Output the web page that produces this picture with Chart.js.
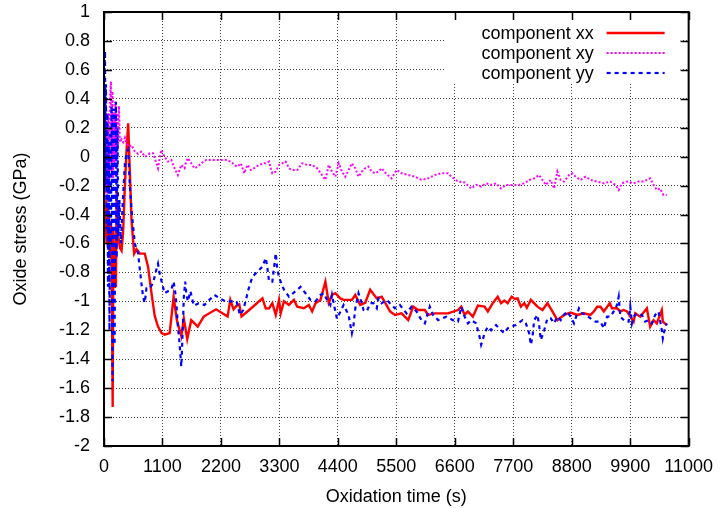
<!DOCTYPE html>
<html>
<head>
<meta charset="utf-8">
<title>Oxide stress</title>
<script src="https://cdn.jsdelivr.net/npm/chart.js@4.4.1/dist/chart.umd.min.js"></script>
<style>
body { margin: 0; background: #fff; }
#stress-chart { display: block; }
</style>
</head>
<body>
<canvas id="stress-chart" width="723" height="508"></canvas>
<script>
// values (time in s, stress in GPa)
var xxTime = [5,19,32,47,62,75,94,112,131,150,163,178,193,206,224,238,253,271,299,331,361,393,425,455,486,518,567,612,674,767,829,892,954,1016,1085,1141,1235,1310,1371,1454,1502,1566,1641,1764,1877,2109,2326,2376,2438,2494,2545,2588,2732,2981,3044,3106,3167,3231,3293,3324,3386,3480,3573,3635,3760,3854,3916,3979,4073,4166,4228,4290,4353,4447,4508,4664,4728,4821,4915,5008,5132,5225,5382,5474,5599,5724,5818,5911,6037,6098,6224,6473,6660,6722,6785,6847,6940,7034,7159,7221,7315,7408,7470,7533,7595,7670,7732,7782,7844,7908,7956,8031,8156,8250,8343,8437,8530,8656,8779,8905,9030,9153,9216,9279,9341,9404,9516,9558,9652,9715,9777,9840,9902,9965,9995,10089,10214,10276,10340,10401,10495,10514,10588];
var xxStress = [-0.35,-0.55,-0.3,-0.6,-0.35,-0.62,-0.4,-0.7,-0.45,-1.0,-1.73,-0.5,-0.9,-0.61,-0.9,-0.22,-0.6,-0.55,-0.63,-0.65,-0.51,-0.2,0.05,0.23,-0.1,-0.44,-0.67,-0.64,-0.67,-0.67,-0.76,-0.94,-1.1,-1.175,-1.22,-1.23,-1.22,-0.97,-1.13,-1.24,-1.12,-1.26,-1.13,-1.175,-1.105,-1.055,-1.105,-0.99,-1.055,-1.03,-1.02,-1.105,-1.06,-0.98,-1.05,-1.048,-1.013,-1.094,-0.99,-1.083,-1.0,-1.025,-0.99,-1.037,-1.048,-1.025,-1.07,-1.013,-0.99,-0.864,-1.01,-0.956,-0.944,-0.98,-0.99,-0.99,-0.956,-1.025,-1.01,-0.92,-0.98,-0.968,-1.07,-1.094,-1.083,-1.13,-1.037,-1.06,-1.06,-1.094,-1.083,-1.083,-1.06,-1.037,-1.094,-1.07,-1.106,-1.03,-1.037,-1.07,-1.013,-0.968,-1.013,-0.995,-1.013,-0.968,-0.984,-0.98,-1.037,-1.013,-1.044,-0.99,-1.037,-1.06,-1.013,-1.07,-1.13,-1.094,-1.078,-1.094,-1.083,-1.094,-1.07,-1.037,-1.037,-1.07,-1.013,-1.048,-1.048,-1.07,-1.06,-1.07,-1.106,-1.14,-1.083,-1.106,-1.048,-1.175,-1.13,-1.152,-1.06,-1.14,-1.164];

var xyTime = [0,13,24,37,50,64,80,94,112,131,144,159,174,187,200,215,230,243,262,281,299,331,361,393,425,468,518,580,642,705,767,829,861,922,986,1016,1048,1079,1109,1141,1203,1266,1328,1390,1454,1515,1547,1577,1641,1702,1764,1828,1921,2045,2170,2295,2389,2451,2512,2576,2638,2700,2763,2825,2918,3012,3044,3106,3137,3167,3231,3293,3354,3418,3480,3541,3635,3729,3822,3916,4009,4103,4166,4228,4290,4353,4415,4477,4540,4602,4664,4728,4789,4851,4915,4976,5038,5101,5163,5225,5313,5412,5506,5599,5724,5849,5973,6098,6224,6347,6473,6535,6660,6785,6909,7003,7096,7189,7283,7377,7470,7564,7689,7814,7908,8001,8094,8187,8250,8312,8405,8468,8530,8592,8656,8749,8811,8873,8967,9060,9153,9279,9404,9528,9622,9684,9746,9840,9965,10058,10151,10276,10340,10401,10463,10526,10588];
var xyStress = [-0.2,-0.35,0.1,-0.3,0.2,-0.25,0.3,-0.2,0.4,0.52,-0.1,0.45,-0.15,0.3,-0.05,0.38,0.0,0.3,0.05,0.35,0.1,0.12,0.1,0.13,0.09,0.07,0.08,0.035,0.02,0.035,0.0,0.01,0.023,0.023,-0.046,-0.08,-0.01,0.046,0.023,0.0,-0.034,-0.023,-0.08,-0.127,-0.057,-0.08,-0.034,-0.01,-0.046,-0.08,-0.069,-0.046,-0.023,-0.023,-0.023,-0.023,-0.034,-0.057,-0.069,-0.046,-0.115,-0.057,-0.092,-0.08,-0.057,-0.046,-0.046,-0.034,-0.08,-0.115,-0.103,-0.057,-0.046,-0.034,-0.08,-0.092,-0.092,-0.046,-0.057,-0.057,-0.08,-0.127,-0.16,-0.057,-0.103,-0.138,-0.046,-0.103,-0.138,-0.092,-0.046,-0.08,-0.138,-0.103,-0.08,-0.069,-0.103,-0.115,-0.103,-0.08,-0.12,-0.15,-0.092,-0.115,-0.127,-0.138,-0.16,-0.15,-0.127,-0.115,-0.115,-0.138,-0.172,-0.178,-0.22,-0.195,-0.207,-0.184,-0.195,-0.184,-0.22,-0.195,-0.195,-0.195,-0.184,-0.161,-0.15,-0.127,-0.161,-0.195,-0.161,-0.22,-0.103,-0.161,-0.172,-0.127,-0.115,-0.138,-0.161,-0.138,-0.161,-0.172,-0.184,-0.172,-0.195,-0.23,-0.184,-0.172,-0.184,-0.172,-0.172,-0.15,-0.195,-0.23,-0.22,-0.265,-0.265];

var yyTime = [0,9,19,28,37,50,62,75,88,103,118,131,144,159,174,187,200,211,224,238,253,268,290,318,355,393,425,455,486,518,580,642,674,735,767,799,861,922,986,1016,1048,1109,1141,1203,1266,1310,1347,1371,1390,1422,1454,1465,1483,1502,1528,1547,1577,1626,1689,1783,1889,1983,2077,2183,2282,2389,2494,2557,2619,2670,2718,2793,2886,2981,3044,3074,3106,3167,3199,3231,3261,3293,3324,3386,3480,3605,3697,3792,3884,3979,4073,4134,4196,4258,4290,4353,4383,4508,4602,4634,4664,4695,4728,4789,4851,4883,4944,5008,5070,5132,5163,5225,5318,5412,5474,5567,5693,5786,5880,5973,6037,6130,6192,6286,6441,6566,6660,6722,6785,6847,6909,7003,7034,7066,7096,7127,7159,7221,7283,7377,7470,7533,7595,7657,7750,7875,7937,7999,8031,8062,8094,8156,8187,8218,8282,8343,8405,8468,8530,8592,8656,8717,8779,8842,8936,8998,9060,9153,9247,9341,9404,9466,9528,9590,9652,9684,9715,9808,9871,9902,9933,9965,10027,10120,10182,10245,10307,10370,10433,10495,10514,10546,10588];
var yyStress = [-0.3,0.6,0.73,-0.2,0.5,-0.5,0.3,-0.9,0.1,-1.2,0.2,-0.6,0.35,-1.55,-0.3,0.33,-1.3,-0.4,0.38,-0.7,0.2,-0.55,-0.3,-0.6,-0.3,-0.05,0.03,0.05,-0.2,-0.37,-0.6,-0.67,-0.78,-0.97,-1.01,-0.91,-0.91,-0.875,-0.78,-0.74,-0.81,-0.9,-0.944,-0.93,-0.92,-0.864,-0.956,-1.06,-1.175,-1.29,-1.45,-1.36,-1.175,-0.97,-0.864,-0.944,-1.0,-0.93,-1.03,-1.013,-1.025,-0.99,-0.956,-0.98,-1.0,-1.0,-1.0,-1.094,-1.06,-0.99,-0.917,-0.83,-0.795,-0.76,-0.70,-0.77,-0.864,-0.864,-0.77,-0.668,-0.78,-0.83,-0.864,-0.92,-0.968,-0.93,-0.9,-0.944,-0.99,-1.0,-0.956,-0.944,-0.99,-1.025,-0.956,-1.07,-1.12,-1.025,-1.094,-1.164,-1.22,-1.164,-1.048,-0.944,-1.013,-1.06,-1.07,-1.013,-1.013,-1.048,-0.98,-1.013,-0.99,-1.025,-1.048,-1.025,-1.083,-1.037,-1.07,-1.13,-1.152,-1.037,-1.094,-1.13,-1.106,-1.13,-1.14,-1.037,-1.106,-1.152,-1.13,-1.152,-1.2,-1.245,-1.30,-1.267,-1.22,-1.175,-1.2,-1.164,-1.2,-1.22,-1.187,-1.175,-1.164,-1.13,-1.152,-1.22,-1.30,-1.245,-1.13,-1.094,-1.164,-1.267,-1.2,-1.118,-1.118,-1.152,-1.106,-1.13,-1.094,-1.07,-1.106,-1.152,-1.048,-1.083,-1.094,-1.118,-1.14,-1.14,-1.187,-1.106,-1.106,-1.07,-1.025,-0.968,-1.106,-1.14,-1.14,-1.037,-1.152,-1.106,-1.083,-1.094,-1.14,-1.13,-1.152,-1.094,-1.07,-1.2,-1.257,-1.2,-1.152];

// axis ranges / tick steps
var xMin = 0, xMax = 11000, xStep = 1100;
var yMin = -2, yMax = 1, yStep = 0.2;

var FONT_FAMILY = '"Liberation Sans", Arial, Helvetica, sans-serif';
var FONT_SIZE = 18;

function toPoints(xs, ys) {
    return xs.map((x, i) => ({ x: x, y: ys[i] }));
}

// gnuplot look: full frame, inward ticks on all sides, opaque key top right
var gnuplotFrame = {
    id: 'gnuplotFrame',
    afterDraw: function(chart) {
        var ctx = chart.ctx;
        var a = chart.chartArea;
        var sx = chart.scales.x, sy = chart.scales.y;
        ctx.save();

        // key box
        ctx.fillStyle = '#fff';
        ctx.fillRect(a.right - 244, a.top + 1, 236, 71);
        ctx.font = FONT_SIZE + 'px ' + FONT_FAMILY;
        ctx.fillStyle = '#000';
        ctx.textAlign = 'right';
        ctx.textBaseline = 'middle';
        chart.data.datasets.forEach(function(ds, i) {
            var y = a.top + 21 + i * 20;
            ctx.fillText(ds.label, a.right - 95, y + 1);
            ctx.beginPath();
            ctx.strokeStyle = ds.borderColor;
            ctx.lineWidth = ds.borderWidth;
            ctx.setLineDash(ds.borderDash || []);
            ctx.moveTo(a.right - 82, y);
            ctx.lineTo(a.right - 24, y);
            ctx.stroke();
        });
        ctx.setLineDash([]);

        // inward ticks
        ctx.strokeStyle = '#000';
        ctx.lineWidth = 1.5;
        ctx.beginPath();
        sx.ticks.forEach(function(t) {
            var px = Math.round(sx.getPixelForValue(t.value)) + 0.5;
            ctx.moveTo(px, a.bottom); ctx.lineTo(px, a.bottom - 8);
            ctx.moveTo(px, a.top); ctx.lineTo(px, a.top + 8);
        });
        sy.ticks.forEach(function(t) {
            var py = Math.round(sy.getPixelForValue(t.value)) + 0.5;
            ctx.moveTo(a.left, py); ctx.lineTo(a.left + 8, py);
            ctx.moveTo(a.right, py); ctx.lineTo(a.right - 8, py);
        });
        ctx.stroke();

        // frame
        ctx.lineWidth = 2;
        ctx.strokeRect(a.left, a.top, a.right - a.left, a.bottom - a.top);
        ctx.restore();
    }
};

function draw_stress_chart() {
    var ctx = document.getElementById('stress-chart').getContext('2d');
    return new Chart(ctx, {
        type: 'line',
        data: {
            datasets: [
                {
                    label: 'component xx',
                    data: toPoints(xxTime, xxStress),
                    borderColor: '#ff0000',
                    borderWidth: 2.4,
                    order: 3
                },
                {
                    label: 'component xy',
                    data: toPoints(xyTime, xyStress),
                    borderColor: '#ff00ff',
                    borderWidth: 2,
                    borderDash: [2, 2],
                    order: 2
                },
                {
                    label: 'component yy',
                    data: toPoints(yyTime, yyStress),
                    borderColor: '#0000ff',
                    borderWidth: 2.2,
                    borderDash: [4, 4],
                    order: 1
                }
            ]
        },
        options: {
            responsive: false,
            animation: false,
            devicePixelRatio: 1,
            elements: {
                point: { radius: 0 },
                line: { tension: 0, fill: false, borderJoinStyle: 'miter' }
            },
            layout: { padding: { left: 0, right: 31, top: 12, bottom: 0 } },
            plugins: {
                legend: { display: false },
                tooltip: { enabled: false }
            },
            scales: {
                x: {
                    type: 'linear',
                    min: xMin,
                    max: xMax,
                    afterFit: function(scale) { scale.height = 62; },
                    ticks: {
                        stepSize: xStep,
                        autoSkip: false,
                        maxRotation: 0,
                        padding: 10,
                        color: '#000',
                        font: { family: FONT_FAMILY, size: FONT_SIZE },
                        callback: function(v) { return String(v); }
                    },
                    grid: { color: '#444', lineWidth: 1, drawTicks: false },
                    border: { display: false, dash: [1, 2] },
                    title: {
                        display: true,
                        text: 'Oxidation time (s)',
                        color: '#000',
                        font: { family: FONT_FAMILY, size: FONT_SIZE },
                        padding: { top: 0, bottom: 0 }
                    }
                },
                y: {
                    min: yMin,
                    max: yMax,
                    afterFit: function(scale) {
                        scale.width = 104;
                        // tick padding should not push the plot down
                        scale.paddingTop = 0;
                        scale.paddingBottom = 0;
                    },
                    ticks: {
                        stepSize: yStep,
                        padding: 14,
                        color: '#000',
                        font: { family: FONT_FAMILY, size: FONT_SIZE },
                        callback: function(v) { return String(+v.toFixed(1)); }
                    },
                    grid: { color: '#444', lineWidth: 1, drawTicks: false },
                    border: { display: false, dash: [1, 2] },
                    title: {
                        display: true,
                        text: 'Oxide stress (GPa)',
                        color: '#000',
                        font: { family: FONT_FAMILY, size: FONT_SIZE },
                        padding: { top: 10, bottom: 0 }
                    }
                }
            }
        },
        plugins: [gnuplotFrame]
    });
}

var stress_chart = draw_stress_chart();
</script>
</body>
</html>
